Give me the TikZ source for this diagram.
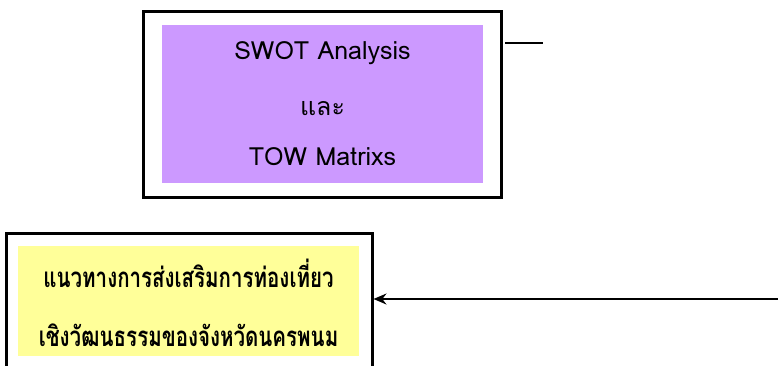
\documentclass[tikz,border=0pt]{standalone}
\usepackage{fontspec}
\usepackage{graphicx}
\setmainfont[Script=Thai]{Loma}
\newfontfamily\thaifont[Script=Thai]{Loma}
\usetikzlibrary{arrows.meta}
\definecolor{boxpurple}{HTML}{CC99FF}
\definecolor{boxyellow}{HTML}{FFFF99}
\tikzset{
  outerbox/.style={draw=black, line width=3pt, fill=white, rectangle, inner sep=0pt},
  innerbox/.style={rectangle, inner sep=0pt, align=center},
  toptext/.style={innerbox, font=\thaifont\fontsize{25}{29}\selectfont},
  bottext/.style={innerbox, font=\thaifont\bfseries\fontsize{20.5}{24}\selectfont},
  conn/.style={draw=black, line width=1.5pt},
}
\begin{document}
\begin{tikzpicture}[x=1pt,y=1pt]
\useasboundingbox (0,0) rectangle (778,365);
\clip (0,0) rectangle (778,365);
% top box
\node[outerbox, minimum width=358pt, minimum height=185pt] (topout) at (322,260.5) {};
\node[innerbox, fill=boxpurple, minimum width=321pt, minimum height=158pt] (topin) at (322.5,261) {};
\node[toptext] (t1) at (322.5,312) {SWOT Analysis};
\node[toptext] (t2) at (322.5,256) {และ};
\node[toptext] (t3) at (322.5,208) {TOW Matrixs};
\coordinate (l1) at (505,322);
\coordinate (l2) at (543,322);
\draw[conn] (l1) -- (l2);
% bottom box
\node[outerbox, minimum width=366pt, minimum height=160pt] (botout) at (189,52) {};
\node[innerbox, fill=boxyellow, minimum width=341pt, minimum height=110pt] (botin) at (188.5,64) {};
\node[bottext] (b1) at (188.5,92) {\scalebox{1}[1.35]{แนวทางการส่งเสริมการท่องเที่ยว}};
\node[bottext] (b2) at (188.5,30) {\scalebox{1}[1.35]{เชิงวัฒนธรรมของจังหวัดนครพนม}};
\coordinate (src) at (780,66);
\draw[conn, -{Stealth[length=13pt,width=11pt]}] (src) -- (src -| botout.east);
\end{tikzpicture}
\end{document}
